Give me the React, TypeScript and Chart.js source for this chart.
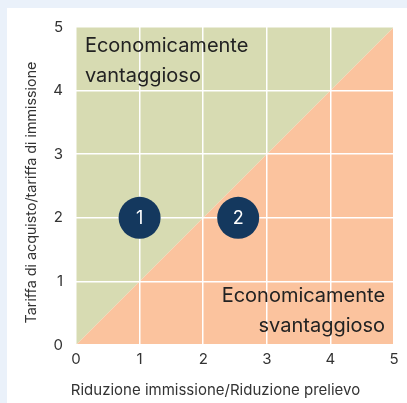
import React, { useEffect, useRef } from "react";
import { Chart, registerables } from "chart.js";
Chart.register(...registerables);

const boundaryX = [0, 5];
const boundaryY = [0, 5];
const pointLabels = ["1", "2"];
const pointX = [1, 2.55];
const pointY = [2, 2];
const tickValues = [0, 1, 2, 3, 4, 5];
const topText = ["Economicamente", "vantaggioso"];
const topTextPos = { x: 0.14, y: [4.7, 4.23] };
const bottomText = ["Economicamente", "svantaggioso"];
const bottomTextPos = { x: 4.86, y: [0.77, 0.3] };
const xTitle = "Riduzione immissione/Riduzione prelievo";
const yTitle = "Tariffa di acquisto/tariffa di immissione";

const GREEN = "#d7dbb2";
const ORANGE = "#fbc39e";
const NAVY = "#14385e";
const FONT = "Inter";

const textPlugin = {
  id: "texts",
  afterDatasetsDraw(chart: any) {
    const { ctx, scales, chartArea } = chart;
    const xs = scales.x, ys = scales.y;
    ctx.save();
    ctx.fillStyle = "#222";
    ctx.font = `20px ${FONT}`;
    ctx.textBaseline = "middle";
    ctx.textAlign = "left";
    topText.forEach((t, i) => ctx.fillText(t, xs.getPixelForValue(topTextPos.x), ys.getPixelForValue(topTextPos.y[i])));
    ctx.textAlign = "right";
    bottomText.forEach((t, i) => ctx.fillText(t, xs.getPixelForValue(bottomTextPos.x), ys.getPixelForValue(bottomTextPos.y[i])));
    const meta = chart.getDatasetMeta(2);
    ctx.fillStyle = "#fff";
    ctx.font = `18px ${FONT}`;
    ctx.textAlign = "center";
    meta.data.forEach((el: any, i: number) => ctx.fillText(pointLabels[i], el.x, el.y + 1));
    // axis titles
    ctx.fillStyle = "#333";
    ctx.font = `15px ${FONT}`;
    ctx.fillText(xTitle, (chartArea.left + chartArea.right) / 2 - 19.5, chartArea.bottom + 45);
    ctx.save();
    ctx.translate(chartArea.left - 44, (chartArea.top + chartArea.bottom) / 2 + 6.5);
    ctx.rotate(-Math.PI / 2);
    ctx.font = `14.3px ${FONT}`;
    ctx.fillText(yTitle, 0, 0);
    ctx.restore();
    ctx.restore();
  },
};

export default function App() {
  const ref = useRef<HTMLCanvasElement>(null);
  useEffect(() => {
    const line = boundaryX.map((x, i) => ({ x, y: boundaryY[i] }));
    const chart = new Chart(ref.current!, {
      type: "scatter",
      data: {
        datasets: [
          { data: line, showLine: true, fill: "end", backgroundColor: GREEN, borderWidth: 0, pointRadius: 0, order: 2 } as any,
          { data: line, showLine: true, fill: "origin", backgroundColor: ORANGE, borderWidth: 0, pointRadius: 0, order: 1 } as any,
          {
            data: pointX.map((x, i) => ({ x, y: pointY[i] })),
            pointRadius: 21,
            pointBackgroundColor: NAVY,
            pointBorderWidth: 0,
            backgroundColor: NAVY,
            order: -1,
          } as any,
        ],
      },
      options: {
        animation: false,
        responsive: false,
        maintainAspectRatio: false,
        layout: { autoPadding: false, padding: { left: 0, top: 19, right: 13, bottom: 0 } },
        plugins: { legend: { display: false }, tooltip: { enabled: false }, filler: { drawTime: "beforeDraw" } },
        scales: {
          x: {
            type: "linear",
            min: 0,
            max: 5,
            afterBuildTicks: (s: any) => { s.ticks = tickValues.map((v) => ({ value: v })); },
            afterFit: (s: any) => { s.height = 58; s.paddingRight = 0; s.paddingLeft = 0; },
            grid: { color: "#ffffff", lineWidth: 1.5, drawTicks: false },
            border: { display: false },
            ticks: { color: "#333", font: { family: FONT, size: 15 }, padding: 5, maxRotation: 0 },
            title: { display: false },
          },
          y: {
            type: "linear",
            min: 0,
            max: 5,
            afterBuildTicks: (s: any) => { s.ticks = tickValues.map((v) => ({ value: v })); },
            afterFit: (s: any) => { s.width = 69; s.paddingTop = 0; s.paddingBottom = 0; },
            grid: { color: "#ffffff", lineWidth: 1.5, drawTicks: false },
            border: { display: false },
            ticks: { color: "#333", font: { family: FONT, size: 15 }, padding: 13 },
            title: { display: false },
          },
        },
      },
      plugins: [textPlugin],
    } as any);
    return () => chart.destroy();
  }, []);
  return (
    <div style={{ position: "fixed", left: 0, top: 0, width: 407, height: 403, background: "#eaf1fa" }}>
      <div style={{ position: "absolute", left: 7, top: 8, width: 400, height: 395, background: "#fff" }}>
        <canvas ref={ref} width={400} height={395} style={{ display: "block" }} />
      </div>
    </div>
  );
}
